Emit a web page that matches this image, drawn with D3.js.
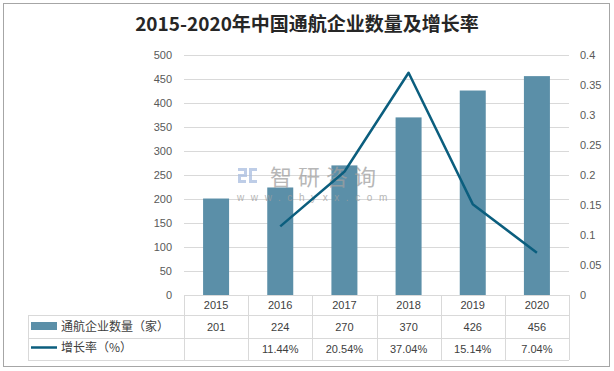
<!DOCTYPE html>
<html>
<head>
<meta charset="utf-8">
<script src="https://cdnjs.cloudflare.com/ajax/libs/d3/7.8.5/d3.min.js"></script>
<style>
  body { margin: 0; background: #fff; }
  svg { display: block; }
</style>
</head>
<body>
<div id="chart"></div>
<script>
var years = ["2015", "2016", "2017", "2018", "2019", "2020"];
var companies = [201, 224, 270, 370, 426, 456];
var growth = [null, 0.1144, 0.2054, 0.3704, 0.1514, 0.0704];
var growthLabels = ["", "11.44%", "20.54%", "37.04%", "15.14%", "7.04%"];
var leftTicks = [0, 50, 100, 150, 200, 250, 300, 350, 400, 450, 500];
var rightTicks = [0, 0.05, 0.1, 0.15, 0.2, 0.25, 0.3, 0.35, 0.4];
var seriesNames = ["通航企业数量（家）", "增长率（%）"];

var width = 614, height = 371;
var barColor = "#5b8fa8", lineColor = "#0b5e7e";
var cjk = "'Noto Sans CJK SC', sans-serif";
var num = "'Liberation Sans', 'DejaVu Sans', sans-serif";

var svg = d3.select("#chart").append("svg")
	.attr("width", width).attr("height", height);

// outer frame
svg.append("rect")
	.attr("x", 3.5).attr("y", 3.5)
	.attr("width", 606).attr("height", 363)
	.attr("fill", "#fff").attr("stroke", "#a6a6a6");

svg.append("text")
	.attr("x", width / 2).attr("y", 31)
	.attr("text-anchor", "middle")
	.attr("font-family", cjk)
	.attr("font-weight", "bold")
	.attr("font-size", "19px")
	.attr("fill", "#262626")
	.text("2015-2020年中国通航企业数量及增长率");

var plotLeft = 184, plotRight = 569, plotTop = 55, plotBottom = 295;

var x = d3.scaleBand().domain(years).range([plotLeft, plotRight]);
var yL = d3.scaleLinear().domain([0, 500]).range([plotBottom, plotTop]);
var yR = d3.scaleLinear().domain([0, 0.4]).range([plotBottom, plotTop]);

// gridlines
svg.append("g").selectAll("line").data(leftTicks.slice(1)).enter().append("line")
	.attr("x1", plotLeft).attr("x2", plotRight)
	.attr("y1", function(d) { return yL(d) + 0.5; })
	.attr("y2", function(d) { return yL(d) + 0.5; })
	.attr("stroke", "#d9d9d9");

// left axis labels
var axisL = d3.axisLeft(yL).tickValues(leftTicks).tickSize(0).tickPadding(12);
var gL = svg.append("g").attr("transform", "translate(" + plotLeft + ",0)").call(axisL);
gL.select(".domain").remove();
gL.selectAll("text").attr("font-family", num).attr("font-size", "11px").attr("fill", "#595959");

var axisR = d3.axisRight(yR).tickValues(rightTicks).tickSize(0).tickPadding(11)
	.tickFormat(function(d) { return d3.format("~g")(+d.toFixed(2)); });
var gR = svg.append("g").attr("transform", "translate(" + plotRight + ",0)").call(axisR);
gR.select(".domain").remove();
gR.selectAll("text").attr("font-family", num).attr("font-size", "11px").attr("fill", "#595959");

// bars
var barW = 26;
svg.append("g").selectAll("rect").data(companies).enter().append("rect")
	.attr("x", function(d, i) { return x(years[i]) + x.bandwidth() / 2 - barW / 2; })
	.attr("y", function(d) { return yL(d); })
	.attr("width", barW)
	.attr("height", function(d) { return yL(0) - yL(d); })
	.attr("fill", barColor);

// watermark (sits over the bars, under the line)
var wm = svg.append("g").attr("opacity", 0.75);
var logo = wm.append("g").attr("fill", "none").attr("stroke", "#a9bde0").attr("stroke-width", 3);
logo.append("path").attr("d", "M238,169.5 H245.5 V175.5 H239.5 V181.5 H246");
logo.append("path").attr("d", "M250.5,168 V181.5 H257");
wm.append("rect").attr("x", 252).attr("y", 168).attr("width", 5).attr("height", 3).attr("fill", "#a9bde0");
wm.append("text").attr("x", 270).attr("y", 185)
	.attr("font-family", cjk).attr("font-size", "22px").attr("fill", "#a0a0a0")
	.attr("letter-spacing", "6px").text("智研咨询");
wm.append("text").attr("x", 237).attr("y", 201)
	.attr("font-family", num).attr("font-size", "10px").attr("fill", "#a0a0a0")
	.attr("letter-spacing", "6.6px").text("www.chyxx.com");

// growth line
var pts = growth.map(function(d, i) { return { v: d, c: years[i] }; })
	.filter(function(p) { return p.v !== null; });
var line = d3.line()
	.x(function(p) { return x(p.c) + x.bandwidth() / 2; })
	.y(function(p) { return yR(p.v); });
svg.append("path").datum(pts)
	.attr("d", line)
	.attr("fill", "none")
	.attr("stroke", lineColor)
	.attr("stroke-width", 2.5)
	.attr("stroke-linejoin", "round");

// data table
var tableLeft = 28;
var rowTops = [295, 315, 338, 360];
var grid = svg.append("g").attr("stroke", "#d9d9d9").attr("fill", "none");
grid.append("line").attr("x1", plotLeft).attr("x2", plotRight).attr("y1", rowTops[0] + 0.5).attr("y2", rowTops[0] + 0.5);
[rowTops[1], rowTops[2], rowTops[3]].forEach(function(yy) {
	grid.append("line").attr("x1", tableLeft).attr("x2", plotRight).attr("y1", yy + 0.5).attr("y2", yy + 0.5);
});
var vlines = years.map(function(c) { return x(c); }).concat([plotRight]);
vlines.forEach(function(xx) {
	grid.append("line").attr("x1", Math.round(xx) + 0.5).attr("x2", Math.round(xx) + 0.5)
		.attr("y1", rowTops[0]).attr("y2", rowTops[3]);
});
grid.append("line").attr("x1", tableLeft + 0.5).attr("x2", tableLeft + 0.5)
	.attr("y1", rowTops[1]).attr("y2", rowTops[3]);

var cellText = svg.append("g").attr("font-family", num).attr("font-size", "11px")
	.attr("fill", "#404040").attr("text-anchor", "middle");
cellText.selectAll("text.year").data(years).enter().append("text")
	.attr("class", "year")
	.attr("x", function(d) { return x(d) + x.bandwidth() / 2; })
	.attr("y", 309).text(function(d) { return d; });
cellText.selectAll("text.cnt").data(companies).enter().append("text")
	.attr("class", "cnt")
	.attr("x", function(d, i) { return x(years[i]) + x.bandwidth() / 2; })
	.attr("y", 331).text(function(d) { return d; });
cellText.selectAll("text.rate").data(growthLabels).enter().append("text")
	.attr("class", "rate")
	.attr("x", function(d, i) { return x(years[i]) + x.bandwidth() / 2; })
	.attr("y", 353).text(function(d) { return d; });

// legend keys in table
svg.append("rect").attr("x", 31).attr("y", 322).attr("width", 26).attr("height", 8).attr("fill", barColor);
svg.append("line").attr("x1", 31).attr("x2", 57).attr("y1", 347.5).attr("y2", 347.5)
	.attr("stroke", lineColor).attr("stroke-width", 2.5);
svg.selectAll("text.series").data(seriesNames).enter().append("text")
	.attr("class", "series")
	.attr("x", 61)
	.attr("y", function(d, i) { return i === 0 ? 331 : 352; })
	.attr("font-family", cjk).attr("font-size", "12px").attr("fill", "#404040")
	.text(function(d) { return d; });
</script>
</body>
</html>
